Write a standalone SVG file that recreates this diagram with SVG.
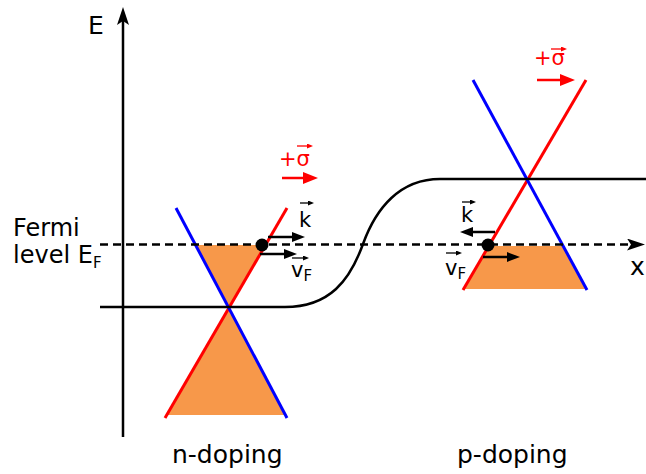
<svg xmlns="http://www.w3.org/2000/svg" width="646" height="474" viewBox="0 0 646 474">
<style>
text{font-family:"DejaVu Sans","Liberation Sans",sans-serif;fill:#000}
.big{font-size:25px}
.fl{font-size:24px}
.sm{font-size:21px}
.sub{font-size:15px}
.red{fill:#ff0000}
.fill{fill:#f7984a;stroke:none}
.rl{stroke:#ff0000;stroke-width:3;fill:none}
.bl{stroke:#0000ff;stroke-width:3;fill:none}
.k{stroke:#000;stroke-width:2.5;fill:none}
.arr{stroke:#000;stroke-width:2.5;fill:none;marker-end:url(#hb)}
.rarr{stroke:#ff0000;stroke-width:2.5;fill:none;marker-end:url(#hr)}
.vec{stroke:#000;stroke-width:1.3;fill:none;marker-end:url(#hs)}
.rvec{stroke:#ff0000;stroke-width:1.3;fill:none;marker-end:url(#hsr)}
</style>
<defs>
<marker id="hb" markerUnits="userSpaceOnUse" markerWidth="13" markerHeight="10" viewBox="0 0 13 10" refX="1" refY="5" orient="auto"><path d="M0,0 L13,5 L0,10 z" fill="#000"/></marker>
<marker id="hr" markerUnits="userSpaceOnUse" markerWidth="15" markerHeight="12" viewBox="0 0 15 12" refX="1" refY="6" orient="auto"><path d="M0,0 L15,6 L0,12 z" fill="#ff0000"/></marker>
<marker id="hs" markerUnits="userSpaceOnUse" markerWidth="6" markerHeight="5" viewBox="0 0 6 5" refX="1" refY="2.5" orient="auto"><path d="M0,0 L6,2.5 L0,5 z" fill="#000"/></marker>
<marker id="hsr" markerUnits="userSpaceOnUse" markerWidth="6" markerHeight="5" viewBox="0 0 6 5" refX="1" refY="2.5" orient="auto"><path d="M0,0 L6,2.5 L0,5 z" fill="#ff0000"/></marker>
<marker id="hax" markerUnits="userSpaceOnUse" markerWidth="18" markerHeight="12" viewBox="0 0 18 12" refX="4" refY="6" orient="auto"><path d="M0,0 L18,6 L0,12 L4,6 z" fill="#000"/></marker>
</defs>

<g id="n-cone">
<polygon class="fill" points="196,245 265,245 229,307"/>
<polygon class="fill" points="229,307 167,415 285,415"/>
<line class="rl" x1="165" y1="418" x2="287" y2="208"/>
<line class="bl" x1="176" y1="208" x2="287" y2="418"/>
</g>

<g id="p-cone">
<polygon class="fill" points="489,246 562,246 586,289 464,289"/>
<line class="rl" x1="463" y1="290" x2="586" y2="80"/>
<line class="bl" x1="473" y1="80" x2="587" y2="290"/>
</g>

<g id="connectors">
<line class="k" x1="123" y1="437" x2="123" y2="21" marker-end="url(#hax)"/>
<line class="k" x1="100" y1="244.5" x2="631" y2="244.5" stroke-dasharray="8,5" marker-end="url(#hax)"/>
<path class="k" d="M100,307 H285 C330,307 350,280 363,244 S400,179 440,179 H646"/>
<line class="arr" x1="268" y1="237" x2="293" y2="237"/>
<line class="arr" x1="260" y1="254" x2="285" y2="254"/>
<line class="arr" x1="495" y1="232" x2="472" y2="232"/>
<line class="arr" x1="483" y1="257" x2="508" y2="257"/>
<line class="rarr" x1="282" y1="178" x2="304" y2="178"/>
<line class="rarr" x1="537" y1="80" x2="561" y2="80"/>
</g>

<g id="electron-n"><circle cx="262" cy="245" r="6.5" fill="#000"/></g>
<g id="electron-p"><circle cx="488" cy="245" r="6.5" fill="#000"/></g>

<g id="labels">
<text class="big" x="88" y="34">E</text>
<text class="big" x="630" y="275">x</text>
<text class="fl" x="13" y="236">Fermi</text>
<text class="fl" x="13" y="263">level E<tspan class="sub" dy="5">F</tspan></text>
<text class="big" x="172" y="463">n-doping</text>
<text class="big" x="457" y="463">p-doping</text>

<text class="sm" x="299" y="227">k</text>
<line class="vec" x1="300" y1="203" x2="309" y2="203"/>
<text class="sm" x="291" y="277">v<tspan class="sub" dy="4">F</tspan></text>
<line class="vec" x1="292" y1="258" x2="304" y2="258"/>

<text class="sm" x="461" y="222">k</text>
<line class="vec" x1="462" y1="202" x2="471" y2="202"/>
<text class="sm" x="445" y="275">v<tspan class="sub" dy="4">F</tspan></text>
<line class="vec" x1="446" y1="253" x2="457" y2="253"/>

<text class="sm red" x="279" y="166">+σ</text>
<line class="rvec" x1="297" y1="146" x2="308" y2="146"/>
<text class="sm red" x="534" y="65">+σ</text>
<line class="rvec" x1="551" y1="49" x2="562" y2="49"/>
</g>
</svg>
